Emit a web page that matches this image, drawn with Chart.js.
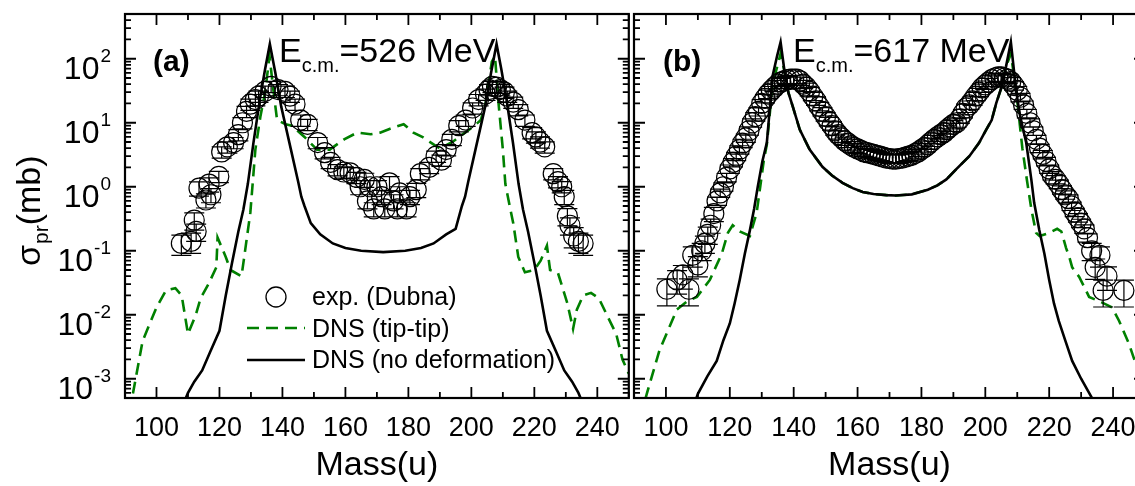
<!DOCTYPE html>
<html>
<head>
<meta charset="utf-8">
<script src="https://cdn.jsdelivr.net/npm/chart.js@4.4.1/dist/chart.umd.min.js"></script>
<style>
  html, body { margin: 0; padding: 0; background: #fff; overflow: hidden; width: 1135px; height: 486px; }
  canvas { position: absolute; top: 0; }
  #chartA { left: 0; }
  #chartB { left: 600px; }
</style>
</head>
<body>
<canvas id="chartA" width="640" height="486"></canvas>
<canvas id="chartB" width="560" height="486"></canvas>
<script>
const FONT = "'Liberation Sans', Arial, sans-serif";
Chart.defaults.font.family = FONT;
Chart.defaults.color = '#000';

// axis ticks
const xTicks = [100, 120, 140, 160, 180, 200, 220, 240];
const yExps = [2, 1, 0, -1, -2, -3];

// ---- panel (a), Ec.m. = 526 MeV ----
const expMassA = [
  107.9, 111, 112, 112.6, 113.5, 115.7, 116.7, 117.3, 119.8, 120.7,
  122.5, 124.5, 126, 127.3, 128.6, 129.8, 131.4, 132.4, 134.5, 136.4,
  138.6, 140.8, 142.4, 144, 145.8, 148, 151.2, 153.4, 155.3, 157.5,
  159.5, 161.5, 163.5, 164.7, 166, 167, 167.8, 169, 170, 171.5,
  172.5, 174, 175.3, 176.5, 177.2, 179.4, 180.5, 182.5, 183.8, 186.6,
  188.8, 190.5, 192, 193.8, 196, 198.2, 200.4, 202.3, 204.5, 205.6,
  206.7, 208, 209.2, 210.5, 211.4, 213.3, 214.9, 217, 219.3, 220.5,
  221.8, 223.3, 226, 227.5, 228.7, 229.5, 230.5, 231.3, 232.5, 234,
  235.5
];
const expValA = [
  0.13, 0.14, 0.3, 0.2, 0.95, 0.62, 1.1, 0.75, 1.45, 3.5,
  4.2, 4.9, 6.5, 10, 15, 19.5, 23, 26, 31, 37,
  33, 31, 26, 19.5, 11, 9.4, 4.9, 3.4, 2.4, 1.85,
  1.7, 1.65, 1.4, 1.0, 1.3, 0.6, 1.0, 0.45, 1.0, 0.7,
  0.45, 1.15, 0.6, 0.45, 0.8, 0.45, 0.7, 0.9, 1.6, 2.0,
  3.0, 2.6, 3.8, 5.5, 9, 11, 17, 23, 28, 33,
  37, 36, 33, 30, 26, 21, 16, 11, 7, 6,
  5, 4.2, 1.6, 1.2, 1.0, 0.7, 0.35, 0.25, 0.17, 0.14,
  0.13
];
const expErrA = [
  0.35, 0.35, 0.3, 0.3, 0.25, 0.25, 0.25, 0.25, 0.2, 0.2,
  0.2, 0.2, 0.2, 0.2, 0.2, 0.2, 0.2, 0.2, 0.2, 0.2,
  0.2, 0.2, 0.2, 0.2, 0.2, 0.2, 0.2, 0.2, 0.2, 0.2,
  0.2, 0.2, 0.2, 0.25, 0.25, 0.25, 0.25, 0.25, 0.25, 0.25,
  0.25, 0.25, 0.25, 0.25, 0.25, 0.25, 0.25, 0.25, 0.2, 0.2,
  0.2, 0.2, 0.2, 0.2, 0.2, 0.2, 0.2, 0.2, 0.2, 0.2,
  0.2, 0.2, 0.2, 0.2, 0.2, 0.2, 0.2, 0.2, 0.2, 0.2,
  0.2, 0.2, 0.2, 0.2, 0.2, 0.25, 0.3, 0.3, 0.35, 0.35,
  0.35
];
const noDefMassA = [
  108, 110, 112, 114.5, 117, 120, 122, 124, 126, 127.6,
  129, 130.8, 133, 134.5, 136, 137.7, 139.6, 142.7, 145, 146,
  147, 149, 152, 156, 160, 165, 172, 179, 184, 188,
  192, 195, 197, 198, 199, 201.3, 204.4, 206.3, 208, 209.5,
  211, 213.2, 215, 216.4, 218, 220, 222, 224, 227, 229.5,
  232, 234, 236
];
const noDefValA = [
  3.5e-4, 6e-4, 9e-4, 1.35e-3, 2.6e-3, 5.6e-3, 0.02, 0.065, 0.2, 0.44,
  1.1, 4.9, 26, 69, 170, 62, 18, 3.8, 1.2, 0.7,
  0.5, 0.27, 0.18, 0.13, 0.11, 0.1, 0.095, 0.1, 0.11, 0.13,
  0.18, 0.22, 0.5, 0.7, 1.2, 3.8, 18, 62, 170, 69,
  26, 4.9, 1.1, 0.44, 0.2, 0.065, 0.02, 5.6e-3, 2.6e-3, 1.35e-3,
  9e-4, 6e-4, 3.5e-4
];
const tipMassA = [
  91.5, 92.5, 95.6, 100, 103, 106, 108, 110, 112.5, 114,
  116.5, 119, 119.4, 122, 123.5, 127, 127.7, 129.8, 131.4, 133,
  134.5, 135.9, 137.2, 138.3, 141, 143, 147, 151, 155, 159.6,
  163.7, 168, 171, 174, 178.5, 181.6, 184.7, 188.8, 190, 194,
  198, 201, 203, 204.5, 206.5, 207.5, 208.6, 210, 210.8, 212.4,
  213.3, 214.9, 217, 220, 222, 224, 225, 227.5, 230.5, 232.3,
  233.5, 235.5, 238, 240.5, 243, 246, 248, 250
];
const tipValA = [
  3e-4, 5.8e-4, 0.0039, 0.013, 0.024, 0.026, 0.02, 0.005, 0.01, 0.018,
  0.03, 0.055, 0.16, 0.08, 0.05, 0.04, 0.07, 0.39, 3.8, 12.5,
  30, 110, 30, 11, 9.5, 9, 6, 3.8, 3.8, 5.5,
  7, 6.6, 7, 8, 9.5, 7, 5.9, 4.3, 4, 5,
  7, 9, 11, 20, 90, 110, 21, 3.8, 1.1, 0.44,
  0.27, 0.08, 0.046, 0.05, 0.07, 0.12, 0.05, 0.045, 0.015, 0.006,
  0.012, 0.02, 0.022, 0.018, 0.01, 0.005, 0.002, 0.0012
];

// ---- panel (b), Ec.m. = 617 MeV ----
const expWingMassB = [100.3, 103.5, 105.3, 107.2, 108.4, 110, 111.2, 112.2, 113.1, 114, 115,
  233.3, 234.4, 235.9, 236.9, 238.1, 243.4];
const expWingValB = [0.025, 0.035, 0.042, 0.025, 0.085, 0.06, 0.1, 0.13, 0.18, 0.25, 0.38,
  0.1, 0.055, 0.085, 0.024, 0.04, 0.024];
const expWingErrB = [0.45, 0.4, 0.4, 0.45, 0.35, 0.35, 0.3, 0.3, 0.3, 0.25, 0.25,
  0.3, 0.35, 0.35, 0.45, 0.4, 0.45];
const expMassB = [
  116, 117, 118, 119, 120, 121, 122, 123, 124, 125,
  126, 127, 128, 129, 130, 131, 132, 133, 134, 135,
  136, 137, 138, 139, 140, 141, 142, 143, 144, 145,
  146, 147, 148, 149, 150, 151, 152, 153, 154, 155,
  156, 157, 158, 159, 160, 161, 162, 163, 164, 165,
  166, 167, 168, 169, 170, 171, 172, 173, 174, 175,
  176, 177, 178, 179, 180, 181, 182, 183, 184, 185,
  186, 187, 188, 189, 190, 191, 192, 193, 194, 195,
  196, 197, 198, 199, 200, 201, 202, 203, 204, 205,
  206, 207, 208, 209, 210, 211, 212, 213, 214, 215,
  216, 217, 218, 219, 220, 221, 222, 223, 224, 225,
  226, 227, 228, 229, 230, 231, 232
];
const expValB = [
  0.6, 0.8, 1.0, 1.4, 1.9, 2.4, 3.0, 3.8, 4.8, 5.8,
  7.5, 10, 12.5, 15, 20, 24, 28, 32, 36, 40,
  43, 45, 47, 48, 48, 48, 45, 40, 36, 31,
  26, 22, 18, 15, 12.5, 10.5, 9, 7.5, 6.5, 5.8,
  5.2, 4.8, 4.4, 4.1, 3.9, 3.7, 3.5, 3.4, 3.3, 3.2,
  3.1, 3.0, 2.9, 2.8, 2.75, 2.7, 2.7, 2.75, 2.8, 2.9,
  3.0, 3.1, 3.3, 3.5, 3.8, 4.1, 4.5, 5.0, 5.5, 6.0,
  6.5, 7.0, 7.8, 8.6, 9.4, 10, 11.5, 14, 17, 19,
  22, 26, 30, 35, 39, 43, 47, 50, 52, 52,
  50, 48, 44, 38, 32, 25, 19, 14, 10, 7.5,
  5.5, 4.0, 3.2, 2.5, 1.9, 1.5, 1.3, 1.1, 0.9, 0.75,
  0.65, 0.5, 0.4, 0.33, 0.27, 0.22, 0.16
];
const expErrB = 0.15;
const noDefMassB = [
  108, 110, 113, 115.9, 118, 120, 121.5, 123.1, 124.7, 126.3,
  127.6, 128.75, 130.2, 131.6, 133.4, 134.8, 135.9, 137.2, 138.3, 139.7,
  141.9, 145, 149, 152, 155.3, 158.5, 161.6, 165, 169, 172,
  177, 182, 185, 187.8, 191, 195, 198, 200.3, 202, 203.4,
  205, 206.5, 208, 209.7, 211, 212.8, 214.4, 215.3, 216.9, 218.5,
  220, 221.5, 223, 225, 227.2, 230, 233.4, 235
];
const noDefValB = [
  3e-4, 5.8e-4, 1.1e-3, 1.9e-3, 4e-3, 7.3e-3, 0.015, 0.035, 0.09, 0.21,
  0.45, 1.0, 2.5, 4.9, 54, 110, 182, 60, 30, 18,
  7.8, 3.8, 2.05, 1.5, 1.15, 0.95, 0.83, 0.77, 0.74, 0.73,
  0.76, 0.9, 1.05, 1.3, 1.9, 3, 4.8, 7.8, 11, 20,
  35, 76, 182, 30, 12, 4.9, 1.3, 0.56, 0.21, 0.09,
  0.035, 0.015, 8e-3, 4e-3, 1.9e-3, 1e-3, 5e-4, 3e-4
];
const tipMassB = [
  92, 94, 98, 103.4, 106.5, 109.7, 113.75, 117.5, 119.4, 120.9,
  123.1, 126.3, 128.4, 129.4, 130.6, 131.6, 133.4, 135.9, 137.2, 138.3,
  139.7, 141.9, 145, 149, 152, 155.3, 158.5, 161.6, 165, 169,
  172, 177, 182, 185, 187.8, 191, 195, 198, 200.3, 202,
  203.4, 205, 206.5, 208, 209.7, 211.6, 213, 214.4, 215.9, 217,
  220, 222.5, 223.8, 225.3, 226.3, 227.2, 229.4, 232.5, 236, 239.7,
  241.9, 245, 246.5, 250
];
const tipValB = [
  2.5e-4, 5.8e-4, 0.0028, 0.012, 0.016, 0.019, 0.035, 0.09, 0.19, 0.25,
  0.2, 0.17, 0.39, 0.9, 2.5, 4.6, 40, 120, 60, 30,
  18, 7.8, 3.8, 2.05, 1.5, 1.15, 0.95, 0.83, 0.77, 0.74,
  0.73, 0.76, 0.9, 1.05, 1.3, 1.9, 3, 4.8, 7.8, 11,
  20, 35, 76, 120, 30, 4, 1.3, 0.45, 0.19, 0.17,
  0.19, 0.22, 0.2, 0.11, 0.08, 0.055, 0.039, 0.019, 0.016, 0.013,
  0.008, 0.0035, 0.0021, 8e-4
];

function pts(ms, vs, es) {
  return ms.map(function (m, i) {
    return { x: m, y: vs[i], e: Array.isArray(es) ? es[i] : (es || 0) };
  });
}

// frame + inward ticks on all four sides
const frame = {
  id: 'frame',
  afterDraw: function (chart) {
    const ctx = chart.ctx, a = chart.chartArea;
    const x = chart.scales.x, y = chart.scales.y;
    ctx.save();
    ctx.strokeStyle = '#000';
    ctx.lineWidth = 2.2;
    ctx.strokeRect(a.left, a.top, a.right - a.left, a.bottom - a.top);
    ctx.lineWidth = 1.8;
    ctx.beginPath();
    for (let m = 90; m <= 250; m += 10) {
      const px = x.getPixelForValue(m);
      const len = m % 20 === 0 ? 11 : 6;
      ctx.moveTo(px, a.bottom); ctx.lineTo(px, a.bottom - len);
      ctx.moveTo(px, a.top); ctx.lineTo(px, a.top + len);
    }
    for (let e = -4; e <= 2; e++) {
      for (let k = 1; k <= 9; k++) {
        const v = k * Math.pow(10, e);
        if (v < y.min || v > y.max) continue;
        const py = y.getPixelForValue(v);
        const len = k === 1 ? 11 : 6;
        ctx.moveTo(a.left, py); ctx.lineTo(a.left + len, py);
        ctx.moveTo(a.right, py); ctx.lineTo(a.right - len, py);
      }
    }
    ctx.stroke();
    ctx.restore();
  }
};

// vertical error bars with caps for the exp. points (dataset 0)
const errorBars = {
  id: 'errorBars',
  afterDatasetsDraw: function (chart) {
    const ctx = chart.ctx, a = chart.chartArea;
    const x = chart.scales.x, y = chart.scales.y;
    ctx.save();
    ctx.beginPath();
    ctx.rect(a.left, a.top, a.right - a.left, a.bottom - a.top);
    ctx.clip();
    ctx.strokeStyle = '#000';
    ctx.lineWidth = 1.2;
    ctx.beginPath();
    chart.data.datasets[0].data.forEach(function (p) {
      const px = x.getPixelForValue(p.x);
      const lo = y.getPixelForValue(p.y * (1 - p.e));
      const hi = y.getPixelForValue(p.y * (1 + p.e));
      ctx.moveTo(px, lo); ctx.lineTo(px, hi);
      ctx.moveTo(px - 10, lo); ctx.lineTo(px + 10, lo);
      ctx.moveTo(px - 10, hi); ctx.lineTo(px + 10, hi);
    });
    ctx.stroke();
    ctx.restore();
  }
};

function panelText(tag, energy, tagDx, eDx, isA) {
  return {
    id: 'panelText',
    afterDraw: function (chart) {
      const ctx = chart.ctx, a = chart.chartArea, y = chart.scales.y;
      ctx.save();
      ctx.fillStyle = '#000';
      ctx.textBaseline = 'alphabetic';
      ctx.textAlign = 'left';
      ctx.font = 'bold 30px ' + FONT;
      ctx.fillText(tag, a.left + tagDx, 71);
      let ex = a.left + eDx;
      ctx.font = '34px ' + FONT;
      ctx.fillText('E', ex, 62);
      ex += ctx.measureText('E').width;
      ctx.font = '20px ' + FONT;
      ctx.fillText('c.m.', ex, 72);
      ex += ctx.measureText('c.m.').width;
      ctx.font = '34px ' + FONT;
      ctx.fillText('=' + energy + ' MeV', ex, 62);

      if (isA) {
        // legend
        ctx.strokeStyle = '#000';
        ctx.lineWidth = 1.3;
        ctx.beginPath();
        ctx.arc(276, 297, 10, 0, Math.PI * 2);
        ctx.stroke();
        ctx.lineWidth = 2.6;
        ctx.strokeStyle = '#008000';
        ctx.setLineDash([12, 7]);
        ctx.beginPath(); ctx.moveTo(247, 328); ctx.lineTo(305, 328); ctx.stroke();
        ctx.setLineDash([]);
        ctx.strokeStyle = '#000';
        ctx.beginPath(); ctx.moveTo(247, 360); ctx.lineTo(305, 360); ctx.stroke();
        ctx.font = '25px ' + FONT;
        ctx.fillText('exp. (Dubna)', 312, 305);
        ctx.fillText('DNS (tip-tip)', 312, 337);
        ctx.fillText('DNS (no deformation)', 312, 368);

        // y tick labels 10^n
        yExps.forEach(function (e) {
          const py = y.getPixelForValue(Math.pow(10, e));
          const right = 111;
          ctx.font = '19px ' + FONT;
          const sup = String(e);
          const sw = ctx.measureText(sup).width;
          ctx.fillText(sup, right - sw, py + 3);
          ctx.font = '32px ' + FONT;
          const bw = ctx.measureText('10').width;
          ctx.fillText('10', right - sw - 1 - bw, py + 20);
        });

        // y axis title
        ctx.translate(40, 266);
        ctx.rotate(-Math.PI / 2);
        let tx = 0;
        ctx.font = '34px ' + FONT;
        ctx.fillText('\u03C3', tx, 0);
        tx += ctx.measureText('\u03C3').width + 1;
        ctx.font = '21px ' + FONT;
        ctx.fillText('pr', tx, 8);
        tx += ctx.measureText('pr').width;
        ctx.font = '34px ' + FONT;
        ctx.fillText('(mb)', tx, 0);
      }
      ctx.restore();
    }
  };
}

function makeChart(id, pad, expData, noDefData, tipData, textPlugin) {
  return new Chart(document.getElementById(id), {
    type: 'scatter',
    data: {
      datasets: [
        { label: 'exp. (Dubna)', data: expData, showLine: false, pointStyle: 'circle',
          pointRadius: 10, pointHoverRadius: 10, borderColor: '#000', borderWidth: 1.2,
          backgroundColor: 'rgba(0,0,0,0)' },
        { label: 'DNS (no deformation)', data: noDefData, showLine: true, borderColor: '#000',
          borderWidth: 2.6, pointRadius: 0, tension: 0 },
        { label: 'DNS (tip-tip)', data: tipData, showLine: true, borderColor: '#008000',
          borderWidth: 2.6, borderDash: [12, 7], pointRadius: 0, tension: 0 }
      ]
    },
    options: {
      responsive: false,
      animation: false,
      events: [],
      layout: { padding: pad },
      plugins: { legend: { display: false }, tooltip: { enabled: false } },
      scales: {
        x: {
          type: 'linear', min: 90, max: 250,
          grid: { display: false }, border: { display: false },
          ticks: { font: { size: 27 }, color: '#000', padding: 6, maxRotation: 0, autoSkip: false },
          afterBuildTicks: function (s) { s.ticks = xTicks.map(function (v) { return { value: v }; }); },
          afterFit: function (s) { s.height = 88; },
          title: { display: true, text: 'Mass(u)', font: { size: 34 }, color: '#000', padding: { top: 0, bottom: 0 } }
        },
        y: { type: 'logarithmic', min: 5e-4, max: 500, display: false }
      }
    },
    plugins: [frame, errorBars, textPlugin]
  });
}

makeChart('chartA', { left: 125, right: 5, top: 14, bottom: 0 },
  pts(expMassA, expValA, expErrA), pts(noDefMassA, noDefValA), pts(tipMassA, tipValA),
  panelText('(a)', '526', 28, 154, true));

makeChart('chartB', { left: 34, right: 15, top: 14, bottom: 0 },
  pts(expWingMassB, expWingValB, expWingErrB).concat(pts(expMassB, expValB, expErrB)),
  pts(noDefMassB, noDefValB), pts(tipMassB, tipValB),
  panelText('(b)', '617', 29, 159, false));
</script>
</body>
</html>
